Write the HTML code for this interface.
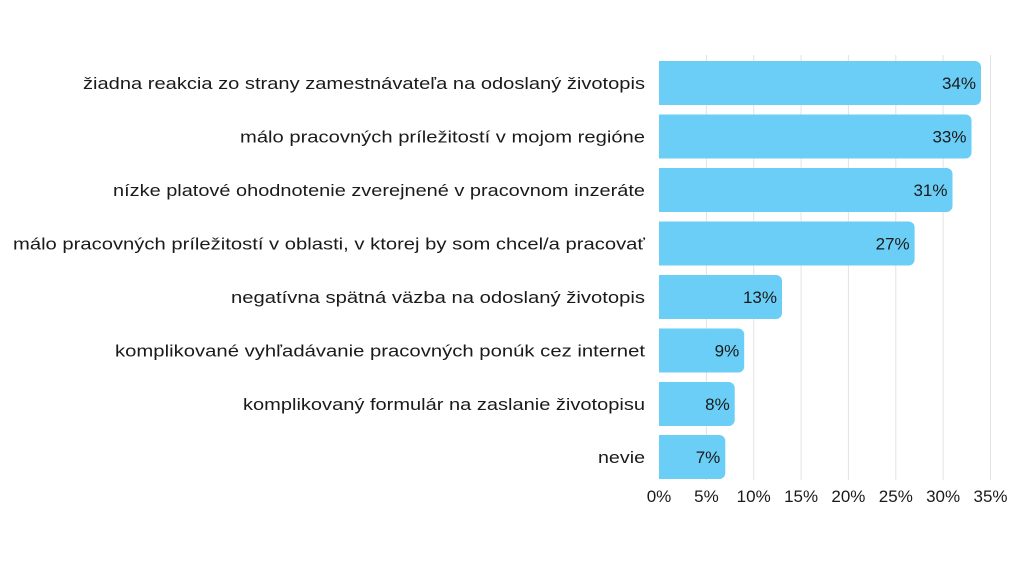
<!DOCTYPE html>
<html><head><meta charset="utf-8"><style>body{margin:0;background:#fff}</style></head><body>
<svg width="1024" height="576" xmlns="http://www.w3.org/2000/svg" font-family="Liberation Sans, sans-serif" fill="#1a1a1a">
<g stroke="#e2e2e2" stroke-width="1">
<line x1="706.4" y1="55" x2="706.4" y2="480"/><line x1="753.7" y1="55" x2="753.7" y2="480"/><line x1="801.1" y1="55" x2="801.1" y2="480"/><line x1="848.4" y1="55" x2="848.4" y2="480"/><line x1="895.8" y1="55" x2="895.8" y2="480"/><line x1="943.1" y1="55" x2="943.1" y2="480"/><line x1="990.5" y1="55" x2="990.5" y2="480"/>
</g>
<g fill="#6acef6">
<path d="M659 61h316a6 6 0 0 1 6 6v32a6 6 0 0 1-6 6h-316z"/>
<path d="M659 114.5h306.5a6 6 0 0 1 6 6v32a6 6 0 0 1-6 6h-306.5z"/>
<path d="M659 168h287.5a6 6 0 0 1 6 6v32a6 6 0 0 1-6 6h-287.5z"/>
<path d="M659 221.5h249.6a6 6 0 0 1 6 6v32a6 6 0 0 1-6 6h-249.6z"/>
<path d="M659 275h117a6 6 0 0 1 6 6v32a6 6 0 0 1-6 6h-117z"/>
<path d="M659 328.5h79.2a6 6 0 0 1 6 6v32a6 6 0 0 1-6 6h-79.2z"/>
<path d="M659 382h69.7a6 6 0 0 1 6 6v32a6 6 0 0 1-6 6h-69.7z"/>
<path d="M659 435h60.3a6 6 0 0 1 6 6v32a6 6 0 0 1-6 6h-60.3z"/>
</g>
<g font-size="17" lengthAdjust="spacingAndGlyphs">
<text x="83" y="89" textLength="562" lengthAdjust="spacingAndGlyphs">žiadna reakcia zo strany zamestnávateľa na odoslaný životopis</text>
<text x="240" y="142.5" textLength="405" lengthAdjust="spacingAndGlyphs">málo pracovných príležitostí v mojom regióne</text>
<text x="113" y="196" textLength="532" lengthAdjust="spacingAndGlyphs">nízke platové ohodnotenie zverejnené v pracovnom inzeráte</text>
<text x="13" y="249.5" textLength="632" lengthAdjust="spacingAndGlyphs">málo pracovných príležitostí v oblasti, v ktorej by som chcel/a pracovať</text>
<text x="231" y="303" textLength="414" lengthAdjust="spacingAndGlyphs">negatívna spätná väzba na odoslaný životopis</text>
<text x="115" y="356.5" textLength="530" lengthAdjust="spacingAndGlyphs">komplikované vyhľadávanie pracovných ponúk cez internet</text>
<text x="243" y="410" textLength="402" lengthAdjust="spacingAndGlyphs">komplikovaný formulár na zaslanie životopisu</text>
<text x="598" y="463" textLength="47" lengthAdjust="spacingAndGlyphs">nevie</text>
</g>
<g font-size="17" text-anchor="end">
<text x="976" y="89">34%</text>
<text x="966.5" y="142.5">33%</text>
<text x="947.5" y="196">31%</text>
<text x="909.6" y="249.5">27%</text>
<text x="777" y="303">13%</text>
<text x="739.2" y="356.5">9%</text>
<text x="729.7" y="410">8%</text>
<text x="720.3" y="463">7%</text>
</g>
<g font-size="17" text-anchor="middle">
<text x="659" y="502">0%</text><text x="706.4" y="502">5%</text><text x="753.7" y="502">10%</text><text x="801.1" y="502">15%</text><text x="848.4" y="502">20%</text><text x="895.8" y="502">25%</text><text x="943.1" y="502">30%</text><text x="990.5" y="502">35%</text>
</g>
</svg>
</body></html>
